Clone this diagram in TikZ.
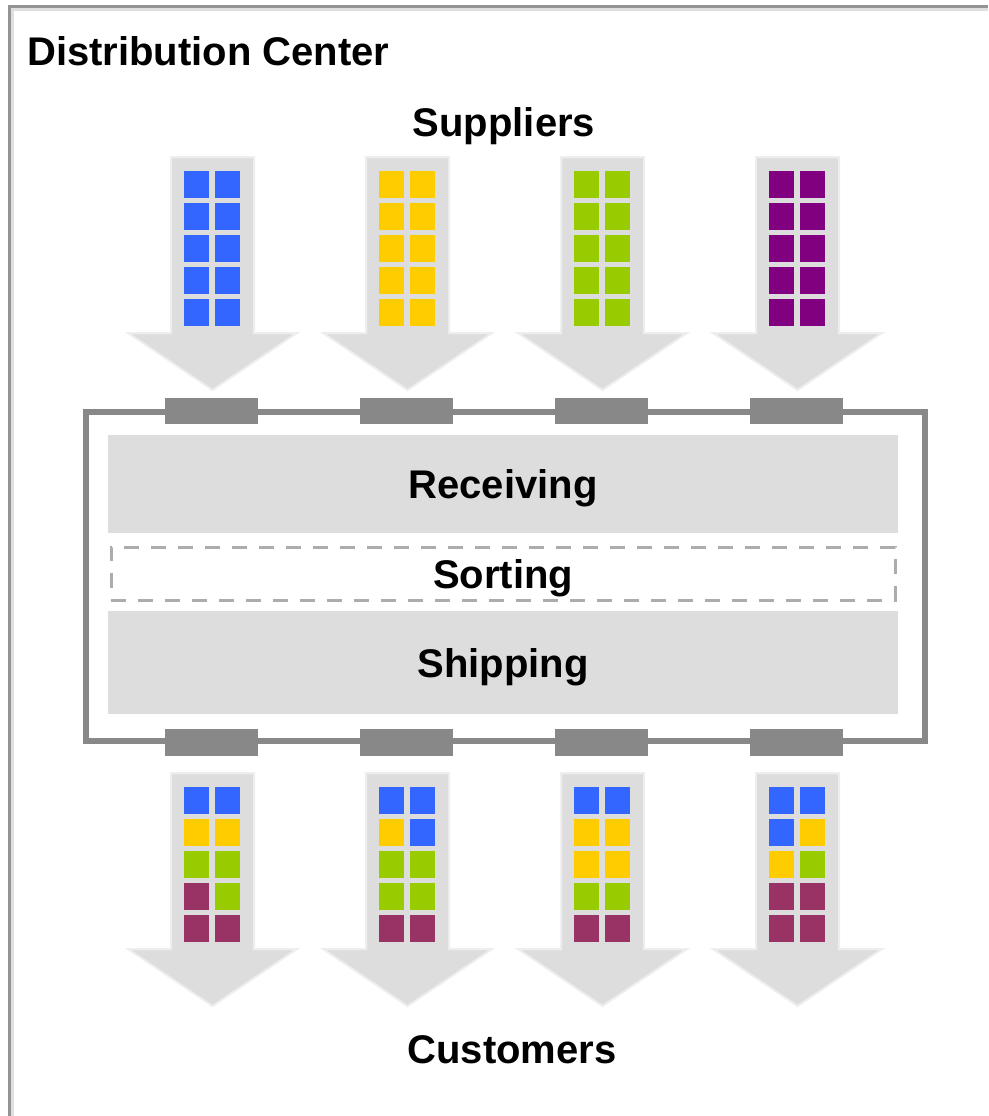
\documentclass[tikz,border=0pt]{standalone}
\usepackage{fontspec}
\setmainfont{Liberation Sans}

\definecolor{crateblue}{HTML}{3366FF}
\definecolor{crateyellow}{HTML}{FFCC00}
\definecolor{crategreen}{HTML}{99CC00}
\definecolor{cratepurple}{HTML}{800080}
\definecolor{cratemaroon}{HTML}{993366}
\definecolor{flowgray}{HTML}{DDDDDD}
\definecolor{wallgray}{HTML}{888888}
\definecolor{edgegray}{HTML}{EEEEEE}

\tikzset{
  heading/.style={font=\fontsize{40}{48}\selectfont\bfseries, inner sep=0pt},
  flow/.style={fill=flowgray, draw=edgegray, line width=2pt},
  wall/.style={draw=wallgray, line width=6pt},
  area/.style={heading, fill=flowgray, minimum width=790pt, text height=29pt, text depth=0pt},
  sortarea/.style={area, fill=none, draw=gray!65, line width=3pt, dash pattern=on 15pt off 12pt,
                   minimum width=784pt}
}

% one flow arrow: centre x, top of shaft
\newcommand{\flowarrow}[2]{%
  \filldraw[flow] ({#1-41.5},{#2}) -- ({#1+41.5},{#2}) -- ({#1+41.5},{#2+176})
    -- ({#1+84.5},{#2+176}) -- ({#1},{#2+233}) -- ({#1-84.5},{#2+176})
    -- ({#1-41.5},{#2+176}) -- cycle;}

% two columns of crates: centre x, top y, colours row by row
\newcommand{\crates}[3]{%
  \foreach \crcol [count=\k from 0] in {#3} {
    \pgfmathtruncatemacro{\crow}{\k/2}
    \pgfmathtruncatemacro{\ccol}{\k-2*\crow}
    \fill[\crcol] ({#1-28.5+31*\ccol},{#2+32*\crow}) rectangle ++(25,27);
  }}

\begin{document}
\begin{tikzpicture}[x=1pt, y=-1pt]
    \useasboundingbox (0,0) rectangle (988,1116);

    % outer frame (top and left only)
    \draw[line width=3pt, draw=gray!25] (12.5,1116) -- (12.5,9.5) -- (988,9.5);
    \draw[line width=3pt, draw=gray!85] (9.5,1116) -- (9.5,6.5) -- (988,6.5);

    \node[heading, anchor=base west] (title) at (27,66) {Distribution Center};
    \node[heading, anchor=base] (suppliers) at (504,136) {Suppliers};

    % incoming arrows, one colour per supplier
    \foreach \x/\sc in {212.5/crateblue, 407.5/crateyellow, 602.5/crategreen, 797.5/cratepurple} {
      \flowarrow{\x}{157}
      \crates{\x}{171}{\sc,\sc,\sc,\sc,\sc,\sc,\sc,\sc,\sc,\sc}
    }

    % building with doors
    \draw[wall] (86,412) rectangle (925,741);
    \foreach \x in {211.5, 406.5, 601.5, 796.5} {
      \fill[wallgray] ({\x-46.5},398) rectangle ++(93,26);
      \fill[wallgray] ({\x-46.5},729) rectangle ++(93,27);
    }

    \node[area, minimum height=98pt] (receiving) at (503,484) {Receiving};
    \node[sortarea, minimum height=53pt] (sorting) at (503,573.5) {Sorting};
    \node[area, minimum height=103pt] (shipping) at (503,662.5) {Shipping};

    % outgoing arrows, mixed loads
    \flowarrow{212.5}{773}
    \crates{212.5}{787}{crateblue,crateblue,crateyellow,crateyellow,crategreen,crategreen,cratemaroon,crategreen,cratemaroon,cratemaroon}
    \flowarrow{407.5}{773}
    \crates{407.5}{787}{crateblue,crateblue,crateyellow,crateblue,crategreen,crategreen,crategreen,crategreen,cratemaroon,cratemaroon}
    \flowarrow{602.5}{773}
    \crates{602.5}{787}{crateblue,crateblue,crateyellow,crateyellow,crateyellow,crateyellow,crategreen,crategreen,cratemaroon,cratemaroon}
    \flowarrow{797.5}{773}
    \crates{797.5}{787}{crateblue,crateblue,crateblue,crateyellow,crateyellow,crategreen,cratemaroon,cratemaroon,cratemaroon,cratemaroon}

    \node[heading, anchor=base] (customers) at (512,1063) {Customers};
\end{tikzpicture}
\end{document}
